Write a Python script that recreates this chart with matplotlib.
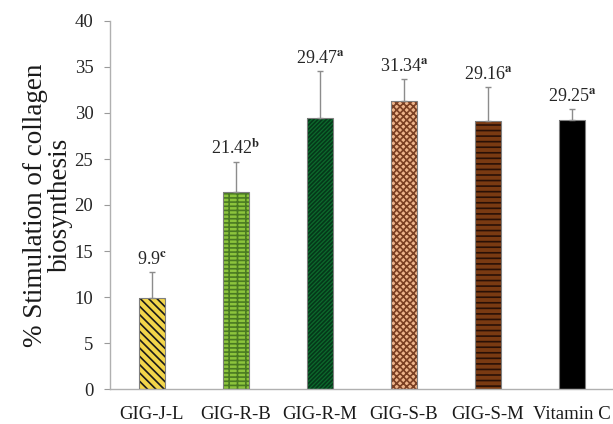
import numpy as np
import matplotlib.pyplot as plt

plt.rcParams['font.family'] = ['Liberation Serif', 'DejaVu Serif']
plt.rcParams['mathtext.fontset'] = 'stix'
plt.rcParams['hatch.linewidth'] = 1.2

# datos
muestras = ['GIG-J-L', 'GIG-R-B', 'GIG-R-M', 'GIG-S-B', 'GIG-S-M', 'Vitamin C']
valores = [9.9, 21.42, 29.47, 31.34, 29.16, 29.25]
errores = [2.8, 3.3, 5.1, 2.4, 3.7, 1.2]
letras = ['c', 'b', 'a', 'a', 'a', 'a']

# relleno, color del patron y patron de cada barra
fondos = ['#f2d54a', '#8cc43c', '#0c6a2c', '#eeb48a', '#7a3a12', '#000000']
tramas = ['#1a1a1a', '#4a7a22', '#05381a', '#7a3f22', '#2a1006', '#000000']
patrones = ['\\\\\\\\', '--++', '////////', 'xxxxx', '---', '']

fig = plt.figure(figsize=(6.13, 4.24), dpi=100)
ax = fig.add_axes([110/613, 35/424, 504/613, 368/424])

x = np.arange(len(muestras))
ancho = 0.32

for i in range(len(muestras)):
    # barra con el patron (el color del borde da el color del patron)
    ax.bar(x[i], valores[i], ancho, color=fondos[i], edgecolor=tramas[i],
           hatch=patrones[i], linewidth=0, zorder=2)
    # contorno gris de la barra
    ax.bar(x[i], valores[i], ancho, fill=False, edgecolor='#7f7f7f',
           linewidth=0.8, zorder=3)

# barras de error solo hacia arriba
ax.errorbar(x, valores, yerr=[np.zeros(len(errores)), errores], fmt='none',
            ecolor='#8c8c8c', elinewidth=1, capsize=2.5, capthick=1, zorder=4)

# etiquetas de valor con la letra en superindice
for i in range(len(muestras)):
    ax.text(x[i], valores[i] + errores[i] + 0.4,
            '%g$^{\\mathbf{%s}}$' % (valores[i], letras[i]),
            ha='center', va='bottom', fontsize=13, color='#262626')

ax.set_xlim(-0.5, 5.5)
ax.set_ylim(0, 40)
ax.set_yticks(np.arange(0, 41, 5))
ax.set_xticks(x)
ax.set_xticklabels(muestras, fontsize=13.5)
ax.tick_params(axis='y', labelsize=13.5, direction='out', length=4,
               color='#9a9a9a', pad=8, labelcolor='#262626')
ax.tick_params(axis='x', length=0, pad=12, labelcolor='#1a1a1a')

for lado in ['top', 'right']:
    ax.spines[lado].set_visible(False)
for lado in ['left', 'bottom']:
    ax.spines[lado].set_color('#b0b0b0')
    ax.spines[lado].set_linewidth(1)

ax.set_ylabel('% Stimulation of collagen\nbiosynthesis', fontsize=19.5,
              color='#1a1a1a', labelpad=1, linespacing=1.0)

plt.savefig('out.png', dpi=100)
